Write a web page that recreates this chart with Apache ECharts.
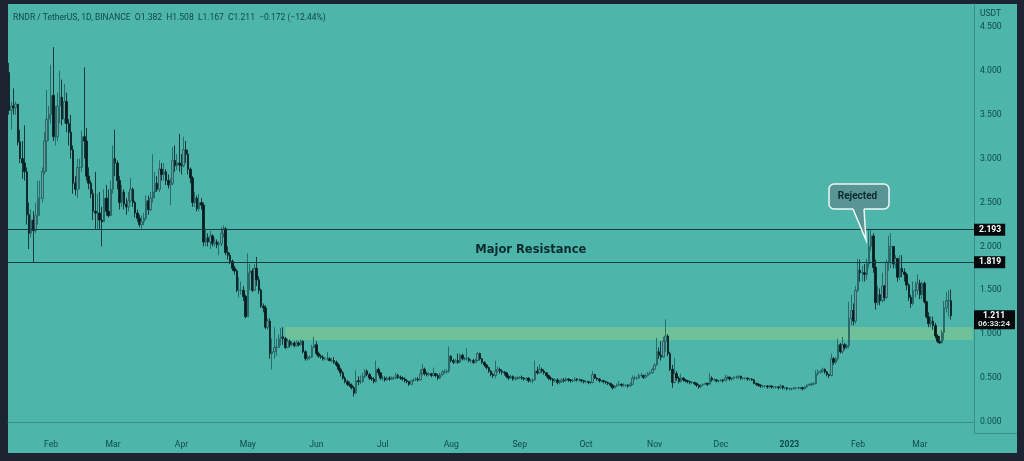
<!DOCTYPE html>
<html>
<head>
<meta charset="utf-8">
<style>html,body{margin:0;padding:0;background:#1b2430}#chart{width:1024px;height:461px}</style>
<script src="https://cdn.jsdelivr.net/npm/echarts@6/dist/echarts.min.js"></script>
</head>
<body>
<div id="chart"></div>
<script>
// RNDR/USDT daily candles. First candle is 2022-01-13
const startDay = Date.UTC(2022, 0, 13)
const slotCount = 437 // includes the empty days right of the last candle

const opens = [
3.98,3.55,3.6,3.58,3.62,3.19,3.0,2.95,2.85,2.36,
2.15,2.3,2.18,2.35,2.55,2.55,2.85,3.2,3.45,3.5,
3.72,3.25,3.25,3.6,3.7,3.45,3.65,3.4,3.3,3.1,
2.72,2.65,2.9,2.9,3.25,3.2,2.8,2.72,2.6,2.4,
2.38,2.38,2.3,2.28,2.55,2.4,2.35,2.65,3.0,2.95,
2.75,2.5,2.62,2.48,2.45,2.52,2.65,2.5,2.38,2.32,
2.25,2.28,2.32,2.52,2.42,2.55,2.62,2.72,2.65,2.88,
2.82,2.85,2.75,2.7,2.72,2.98,2.92,2.95,2.93,2.92,
3.1,3.05,2.88,2.78,2.5,2.55,2.43,2.5,2.47,2.05,
2.1,2.05,2.12,2.03,2.05,2.02,2.03,2.15,2.2,1.93,
1.9,1.83,1.75,1.72,1.5,1.5,1.5,1.43,1.2,1.7,
1.72,1.5,1.75,1.62,1.5,1.32,1.3,1.08,1.15,.78,
.8,.85,.85,.95,.97,.95,.85,.92,.88,.9,
.87,.9,.88,.92,.8,.72,.73,.74,.85,.88,
.78,.75,.74,.72,.72,.72,.7,.7,.68,.65,
.6,.56,.5,.46,.43,.42,.39,.33,.47,.46,
.46,.52,.58,.54,.5,.49,.46,.6,.56,.5,
.5,.48,.5,.49,.5,.5,.53,.51,.5,.49,
.47,.46,.43,.47,.48,.49,.48,.55,.6,.55,
.54,.55,.53,.55,.53,.5,.54,.57,.57,.58,
.75,.7,.68,.7,.68,.76,.72,.72,.72,.7,
.7,.68,.7,.78,.72,.68,.65,.62,.58,.54,
.53,.58,.6,.58,.57,.56,.52,.5,.52,.49,
.5,.5,.51,.5,.49,.5,.47,.47,.48,.58,
.56,.6,.58,.56,.53,.5,.49,.47,.48,.45,
.46,.48,.47,.49,.48,.47,.47,.49,.48,.48,
.47,.46,.46,.45,.45,.54,.5,.49,.47,.47,
.46,.45,.44,.42,.39,.41,.42,.43,.42,.42,
.42,.41,.43,.5,.5,.5,.53,.53,.51,.53,
.55,.56,.6,.65,.8,.76,.74,.92,.98,.78,
.6,.45,.55,.5,.46,.5,.48,.47,.46,.45,
.45,.44,.42,.4,.42,.43,.44,.43,.5,.48,
.48,.47,.47,.48,.47,.5,.51,.49,.5,.51,
.51,.52,.5,.5,.5,.49,.49,.48,.44,.43,
.42,.41,.41,.41,.4,.41,.4,.4,.4,.39,
.41,.39,.39,.38,.38,.38,.39,.39,.39,.39,
.38,.4,.42,.43,.43,.44,.55,.57,.58,.6,
.57,.54,.53,.72,.68,.72,.88,.8,.88,.85,
.87,1.18,1.27,1.15,1.5,1.73,1.7,1.7,1.68,1.8,
2.0,2.12,1.76,1.36,1.45,1.38,1.55,1.42,1.82,2.0,
2.0,1.8,1.86,1.65,1.75,1.71,1.68,1.56,1.42,1.35,
1.5,1.5,1.58,1.45,1.58,1.37,1.2,1.12,1.15,1.1,
.98,.92,.9,1.02,1.3,1.38,1.382
]
const closes = [
3.55,3.6,3.58,3.62,3.19,3.0,2.95,2.85,2.36,2.15,
2.3,2.18,2.35,2.55,2.55,2.85,3.2,3.45,3.5,3.72,
3.25,3.25,3.6,3.7,3.45,3.65,3.4,3.3,3.1,2.72,
2.65,2.9,2.9,3.25,3.2,2.8,2.72,2.6,2.4,2.38,
2.38,2.3,2.28,2.55,2.4,2.35,2.65,3.0,2.95,2.75,
2.5,2.62,2.48,2.45,2.52,2.65,2.5,2.38,2.32,2.25,
2.28,2.32,2.52,2.42,2.55,2.62,2.72,2.65,2.88,2.82,
2.85,2.75,2.7,2.72,2.98,2.92,2.95,2.93,2.92,3.1,
3.05,2.88,2.78,2.5,2.55,2.43,2.5,2.47,2.05,2.1,
2.05,2.12,2.03,2.05,2.02,2.03,2.15,2.2,1.93,1.9,
1.83,1.75,1.72,1.5,1.5,1.5,1.43,1.2,1.7,1.72,
1.5,1.75,1.62,1.5,1.32,1.3,1.08,1.15,.78,.8,
.85,.85,.95,.97,.95,.85,.92,.88,.9,.87,
.9,.88,.92,.8,.72,.73,.74,.85,.88,.78,
.75,.74,.72,.72,.72,.7,.7,.68,.65,.6,
.56,.5,.46,.43,.42,.39,.33,.47,.46,.46,
.52,.58,.54,.5,.49,.46,.6,.56,.5,.5,
.48,.5,.49,.5,.5,.53,.51,.5,.49,.47,
.46,.43,.47,.48,.49,.48,.55,.6,.55,.54,
.55,.53,.55,.53,.5,.54,.57,.57,.58,.75,
.7,.68,.7,.68,.76,.72,.72,.72,.7,.7,
.68,.7,.78,.72,.68,.65,.62,.58,.54,.53,
.58,.6,.58,.57,.56,.52,.5,.52,.49,.5,
.5,.51,.5,.49,.5,.47,.47,.48,.58,.56,
.6,.58,.56,.53,.5,.49,.47,.48,.45,.46,
.48,.47,.49,.48,.47,.47,.49,.48,.48,.47,
.46,.46,.45,.45,.54,.5,.49,.47,.47,.46,
.45,.44,.42,.39,.41,.42,.43,.42,.42,.42,
.41,.43,.5,.5,.5,.53,.53,.51,.53,.55,
.56,.6,.65,.8,.76,.74,.92,.98,.78,.6,
.45,.55,.5,.46,.5,.48,.47,.46,.45,.45,
.44,.42,.4,.42,.43,.44,.43,.5,.48,.48,
.47,.47,.48,.47,.5,.51,.49,.5,.51,.51,
.52,.5,.5,.5,.49,.49,.48,.44,.43,.42,
.41,.41,.41,.4,.41,.4,.4,.4,.39,.41,
.39,.39,.38,.38,.38,.39,.39,.39,.39,.38,
.4,.42,.43,.43,.44,.55,.57,.58,.6,.57,
.54,.53,.72,.68,.72,.88,.8,.88,.85,.87,
1.18,1.27,1.15,1.5,1.73,1.7,1.7,1.68,1.8,2.0,
2.12,1.76,1.36,1.45,1.38,1.55,1.42,1.82,2.0,2.0,
1.8,1.86,1.65,1.75,1.71,1.68,1.56,1.42,1.35,1.5,
1.5,1.58,1.45,1.58,1.37,1.2,1.12,1.15,1.1,.98,
.92,.9,1.02,1.3,1.38,1.382,1.211
]
const highs = [
4.09,3.65,3.8,3.65,3.62,3.33,3.2,3.38,2.9,2.5,
2.42,2.4,2.5,2.75,2.75,2.9,3.3,3.78,3.6,4.07,
4.27,3.6,3.75,4.0,3.9,3.85,3.75,3.45,3.5,3.15,
2.8,3.0,3.0,3.32,4.04,3.35,2.9,2.75,2.65,2.85,
2.6,2.62,2.45,2.65,2.7,2.65,2.75,3.15,3.33,2.98,
2.8,2.7,2.65,2.55,2.62,2.78,2.67,2.52,2.42,2.36,
2.35,2.38,2.58,2.58,2.62,3.05,2.85,2.8,2.98,2.95,
2.95,2.88,2.82,2.78,3.13,3.15,3.05,3.28,3.05,3.25,
3.2,3.1,2.9,2.8,2.62,2.58,2.6,2.55,2.5,2.2,
2.15,2.18,2.14,2.1,2.08,2.06,2.22,2.24,2.22,2.0,
1.93,1.85,1.78,1.74,1.65,1.6,1.55,1.45,1.92,1.8,
1.75,1.8,1.88,1.66,1.52,1.35,1.33,1.18,1.18,.95,
1.08,.95,1.0,1.07,1.08,.97,.95,.94,.92,.92,
.93,.92,.94,.93,.82,.76,.76,.88,.97,.92,
.8,.77,.76,.74,.8,.74,.73,.74,.7,.67,
.62,.58,.52,.48,.46,.44,.41,.59,.52,.53,
.56,.6,.6,.56,.52,.51,.7,.62,.57,.53,
.52,.52,.52,.52,.52,.56,.55,.53,.52,.51,
.49,.47,.48,.5,.51,.51,.6,.66,.62,.57,
.57,.56,.62,.56,.55,.56,.59,.6,.6,.86,
.76,.72,.72,.78,.78,.78,.74,.84,.74,.72,
.72,.72,.8,.79,.73,.69,.66,.63,.59,.56,
.7,.63,.62,.6,.58,.57,.54,.54,.53,.52,
.52,.52,.53,.51,.51,.51,.49,.5,.7,.63,
.66,.62,.6,.57,.54,.52,.5,.5,.5,.48,
.5,.5,.51,.5,.49,.49,.51,.5,.5,.49,
.48,.48,.47,.46,.58,.55,.51,.5,.48,.48,
.47,.46,.45,.43,.42,.44,.47,.44,.44,.43,
.43,.45,.53,.53,.52,.55,.56,.54,.55,.57,
.58,.62,.67,.96,.85,.92,.97,1.17,1.0,.8,
.65,.73,.58,.52,.55,.51,.49,.48,.47,.47,
.46,.45,.43,.43,.44,.45,.45,.56,.52,.5,
.49,.48,.49,.49,.54,.53,.52,.51,.52,.53,
.53,.53,.51,.51,.51,.5,.5,.49,.45,.44,
.43,.42,.42,.42,.42,.42,.41,.41,.41,.43,
.42,.4,.4,.39,.39,.4,.4,.4,.4,.4,
.41,.43,.44,.45,.45,.59,.6,.59,.62,.61,
.58,.55,.78,.74,.74,.95,.9,.97,.9,.89,
1.37,1.45,1.35,1.55,1.86,1.85,1.78,1.8,1.86,2.2,
2.2,2.15,1.85,1.55,1.52,1.7,1.56,1.85,2.12,2.15,
2.0,1.9,1.87,1.9,1.9,1.75,1.7,1.58,1.45,1.6,
1.6,1.68,1.62,1.6,1.6,1.38,1.25,1.2,1.2,1.13,
1.0,.98,1.05,1.38,1.48,1.5,1.508
]
const lows = [
3.5,3.33,3.5,3.5,3.15,2.95,2.77,2.75,2.25,1.97,
2.1,1.81,2.15,2.25,2.35,2.5,2.82,2.85,3.2,3.4,
3.2,3.15,3.2,3.4,3.38,3.4,3.3,3.15,3.0,2.6,
2.58,2.55,2.65,2.85,3.0,2.75,2.65,2.55,2.3,2.2,
2.2,2.2,2.0,2.28,2.35,2.33,2.35,2.6,2.8,2.65,
2.42,2.45,2.42,2.36,2.4,2.5,2.45,2.33,2.28,2.22,
2.2,2.24,2.3,2.36,2.4,2.5,2.55,2.62,2.62,2.75,
2.75,2.7,2.66,2.47,2.7,2.85,2.87,2.85,2.82,2.9,
2.95,2.82,2.72,2.45,2.45,2.4,2.4,2.42,2.0,2.0,
2.0,1.97,2.0,2.0,1.98,1.9,2.0,2.1,1.9,1.85,
1.8,1.72,1.68,1.48,1.42,1.45,1.38,1.18,1.2,1.5,
1.48,1.5,1.55,1.46,1.3,1.25,1.06,1.05,.72,.6,
.72,.75,.85,.87,.88,.83,.84,.85,.86,.85,
.86,.86,.87,.78,.7,.7,.71,.73,.84,.76,
.73,.72,.7,.7,.7,.69,.68,.66,.63,.58,
.52,.48,.44,.41,.4,.37,.29,.32,.42,.43,
.45,.5,.52,.48,.47,.44,.45,.53,.48,.47,
.46,.47,.47,.48,.48,.49,.49,.48,.47,.45,
.44,.41,.42,.46,.47,.46,.47,.53,.53,.52,
.52,.51,.52,.51,.48,.49,.52,.55,.55,.56,
.68,.66,.67,.66,.67,.7,.7,.7,.68,.67,
.66,.67,.69,.7,.66,.63,.6,.56,.52,.5,
.5,.56,.55,.54,.53,.5,.48,.49,.47,.47,
.48,.49,.48,.47,.47,.45,.45,.44,.47,.54,
.55,.56,.54,.51,.48,.47,.41,.45,.43,.43,
.45,.45,.46,.46,.45,.45,.46,.46,.46,.45,
.44,.44,.43,.43,.44,.49,.47,.45,.45,.44,
.43,.42,.4,.37,.38,.4,.41,.4,.4,.4,
.39,.4,.42,.48,.48,.49,.51,.49,.5,.52,
.54,.55,.59,.64,.72,.7,.73,.8,.75,.58,
.39,.44,.47,.44,.45,.46,.45,.44,.43,.43,
.42,.4,.38,.39,.41,.42,.41,.43,.46,.46,
.45,.45,.46,.45,.46,.48,.47,.47,.48,.49,
.49,.48,.48,.48,.47,.47,.47,.43,.41,.4,
.39,.39,.39,.38,.39,.38,.38,.38,.37,.38,
.37,.37,.36,.36,.36,.37,.37,.37,.37,.36,
.37,.39,.41,.41,.42,.43,.53,.55,.56,.55,
.52,.5,.52,.65,.66,.7,.78,.78,.82,.83,
.84,1.1,1.1,1.12,1.48,1.6,1.6,1.6,1.62,1.75,
1.95,1.7,1.28,1.33,1.33,1.36,1.38,1.4,1.72,1.75,
1.75,1.75,1.6,1.62,1.65,1.6,1.5,1.38,1.3,1.33,
1.42,1.45,1.4,1.4,1.35,1.18,1.08,1.08,1.05,.95,
.9,.89,.9,.93,1.25,1.2,1.167
]

const monthTicks = [19, 47, 78, 108, 139, 169, 200, 231, 261, 292, 322, 353, 384, 412]
const monthLabels = ['Feb', 'Mar', 'Apr', 'May', 'Jun', 'Jul', 'Aug', 'Sep', 'Oct', 'Nov', 'Dec', '2023', 'Feb', 'Mar']
const priceTicks = [0, 0.5, 1, 1.5, 2, 2.5, 3, 3.5, 4, 4.5]

const resistanceHigh = 2.193
const resistanceLow = 1.819
const supportZone = [0.934, 1.082]
const lastPrice = 1.211
const countdown = '06:33:24'
const headerText = 'RNDR / TetherUS, 1D, BINANCE  O1.382  H1.508  L1.167  C1.211  \u22120.172 (\u221212.44%)'

const days = []
for (let i = 0; i < slotCount; i++) {
  days.push(new Date(startDay + i * 86400000).toISOString().slice(0, 10))
}
const candles = opens.map((o, i) => [o, closes[i], lows[i], highs[i]])

const textFont = 'Roboto'
const textColor = '#0f4a4d'
const panelColor = '#4db5aa'
const axisColor = '#37908c'
const lineColor = '#0d3d42'

let myChart = echarts.init(document.getElementById('chart'))
let option = {
  animation: false,
  backgroundColor: '#1b2430',
  textStyle: { fontFamily: textFont },
  title: [
    { text: headerText, left: 8, top: 8, textStyle: { fontFamily: textFont, fontSize: 8.5, fontWeight: 'normal', color: textColor } },
    { text: 'USDT', left: 975, top: 4, textStyle: { fontFamily: textFont, fontSize: 8.5, fontWeight: 'normal', color: textColor } }
  ],
  grid: { left: 8, top: 4, width: 966, height: 429 },
  xAxis: {
    type: 'category',
    data: days,
    axisLine: { lineStyle: { color: axisColor, width: 1 } },
    axisTick: { show: false },
    splitLine: { show: false },
    axisLabel: {
      color: textColor,
      fontSize: 8.6,
      margin: 7,
      interval: function (index) { return monthTicks.indexOf(index) >= 0 },
      formatter: function (value, index) {
        let label = monthLabels[monthTicks.indexOf(index)]
        return label === '2023' ? '{year|2023}' : label
      },
      rich: { year: { fontSize: 8.6, fontWeight: 'bold', color: textColor } }
    }
  },
  yAxis: {
    type: 'value',
    position: 'right',
    min: -0.125,
    max: 4.761,
    axisLine: { show: true, lineStyle: { color: axisColor, width: 1 } },
    axisTick: { show: false },
    splitLine: { show: false },
    axisLabel: {
      color: textColor,
      fontSize: 8.6,
      margin: 6,
      padding: [2, 0, 0, 0],
      customValues: priceTicks,
      formatter: function (v) { return v.toFixed(3) }
    }
  },
  series: [{
    name: 'RNDR',
    type: 'candlestick',
    data: candles,
    barWidth: 2,
    itemStyle: {
      color: '#6a9e9c',
      color0: '#071a1e',
      borderColor: '#1f5a5c',
      borderColor0: '#071a1e',
      borderWidth: 0.8
    },
    markArea: {
      silent: true,
      itemStyle: { color: 'rgba(165,212,125,0.38)' },
      data: [[{ xAxis: 125, yAxis: supportZone[1] }, { xAxis: 436, yAxis: supportZone[0] }]]
    },
    markLine: {
      silent: true,
      symbol: 'none',
      lineStyle: { color: lineColor, width: 1, type: 'solid' },
      label: {
        position: 'end',
        distance: 0,
        backgroundColor: '#05090c',
        color: '#ffffff',
        fontWeight: 'bold',
        fontSize: 8.6,
        padding: [2, 4, 1, 5],
        formatter: '{b}'
      },
      data: [
        { name: resistanceHigh.toFixed(3), yAxis: resistanceHigh },
        { name: resistanceLow.toFixed(3), yAxis: resistanceLow },
        {
          name: 'last',
          yAxis: lastPrice,
          lineStyle: { color: 'transparent', width: 0 },
          label: {
            position: 'end',
            distance: 0,
            offset: [0, 4],
            padding: [1, 3, 1, 2],
            backgroundColor: '#05090c',
            formatter: '{a|' + lastPrice.toFixed(3) + '}\n{b|' + countdown + '}',
            rich: {
              a: { color: '#ffffff', fontWeight: 'bold', fontSize: 8.6, lineHeight: 9, width: 36, align: 'center' },
              b: { color: '#d8dedf', fontSize: 8, lineHeight: 8, width: 36, align: 'center' }
            }
          }
        }
      ]
    },
    markPoint: {
      silent: true,
      symbolSize: 0,
      data: [{
        coord: [236, 1.96],
        label: {
          show: true,
          position: 'inside',
          formatter: 'Major Resistance',
          fontFamily: 'DejaVu Sans',
          fontSize: 11.5,
          fontWeight: 'bold',
          color: '#0a2a2e'
        }
      }]
    }
  }],
  graphic: [
    // teal chart panel behind everything, dark page frame stays around it
    { type: 'rect', z: -10, silent: true, shape: { x: 8, y: 4, width: 1009, height: 449 }, style: { fill: panelColor } },
    // the time axis line carries on under the price scale
    { type: 'line', z: 1, silent: true, shape: { x1: 974, y1: 433.5, x2: 1017, y2: 433.5 }, style: { stroke: axisColor, lineWidth: 1 } },
    // "Rejected" callout
    { type: 'rect', z: 100, silent: true, shape: { x: 829, y: 184, width: 60, height: 25, r: 5 }, style: { fill: '#5a9596', stroke: '#eef7f6', lineWidth: 1.5 } },
    { type: 'polygon', z: 101, silent: true, shape: { points: [[853, 208], [864, 208], [866, 240]] }, style: { fill: '#5a9596' } },
    { type: 'polyline', z: 102, silent: true, shape: { points: [[853, 209], [866, 240], [864, 209]] }, style: { stroke: '#eef7f6', lineWidth: 1.5, fill: null } },
    { type: 'text', z: 103, silent: true, x: 857.5, y: 196, style: { text: 'Rejected', fontFamily: textFont, fontSize: 10, fontWeight: 'bold', fill: '#082a2e', textAlign: 'center', textVerticalAlign: 'middle' } }
  ]
}
option && myChart.setOption(option)
</script>
</body>
</html>
